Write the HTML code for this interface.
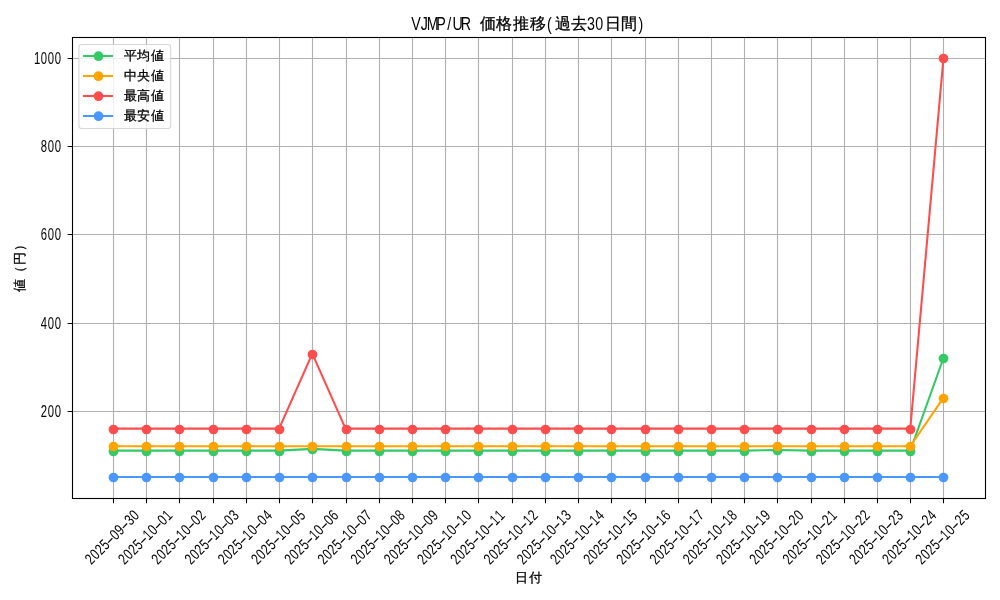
<!DOCTYPE html>
<html><head><meta charset="utf-8"><title>VJMP/UR 価格推移</title>
<style>html,body{margin:0;padding:0;background:#fff;width:1000px;height:600px;overflow:hidden}svg{display:block}</style>
</head><body>
<svg width="1000" height="600" viewBox="0 0 1000 600">
<rect x="0" y="0" width="1000" height="600" fill="#ffffff"/>
<path d="M113.5 37.5V498.5M146.5 37.5V498.5M179.5 37.5V498.5M213.5 37.5V498.5M246.5 37.5V498.5M279.5 37.5V498.5M312.5 37.5V498.5M346.5 37.5V498.5M379.5 37.5V498.5M412.5 37.5V498.5M445.5 37.5V498.5M478.5 37.5V498.5M512.5 37.5V498.5M545.5 37.5V498.5M578.5 37.5V498.5M611.5 37.5V498.5M645.5 37.5V498.5M678.5 37.5V498.5M711.5 37.5V498.5M744.5 37.5V498.5M777.5 37.5V498.5M811.5 37.5V498.5M844.5 37.5V498.5M877.5 37.5V498.5M910.5 37.5V498.5M943.5 37.5V498.5M72.5 411.5H985.5M72.5 323.5H985.5M72.5 234.5H985.5M72.5 146.5H985.5M72.5 58.5H985.5" stroke="#b0b0b0" stroke-width="1.1" fill="none"/>
<polyline points="113.02,450.66 146.24,450.66 179.46,450.66 212.68,450.66 245.90,450.66 279.12,450.66 312.33,448.90 345.55,450.66 378.77,450.66 411.99,450.66 445.21,450.66 478.43,450.66 511.65,450.66 544.87,450.66 578.09,450.66 611.31,450.66 644.52,450.66 677.74,450.66 710.96,450.66 744.18,450.66 777.40,450.00 810.62,450.66 843.84,450.66 877.06,450.66 910.28,450.66 943.50,358.00" fill="none" stroke="#33c966" stroke-width="2.08" stroke-linejoin="round" stroke-linecap="square"/><g fill="#33c966"><circle cx="113.50" cy="451.50" r="4.86"/><circle cx="146.50" cy="451.50" r="4.86"/><circle cx="179.50" cy="451.50" r="4.86"/><circle cx="213.50" cy="451.50" r="4.86"/><circle cx="246.50" cy="451.50" r="4.86"/><circle cx="279.50" cy="451.50" r="4.86"/><circle cx="312.50" cy="449.50" r="4.86"/><circle cx="346.50" cy="451.50" r="4.86"/><circle cx="379.50" cy="451.50" r="4.86"/><circle cx="412.50" cy="451.50" r="4.86"/><circle cx="445.50" cy="451.50" r="4.86"/><circle cx="478.50" cy="451.50" r="4.86"/><circle cx="512.50" cy="451.50" r="4.86"/><circle cx="545.50" cy="451.50" r="4.86"/><circle cx="578.50" cy="451.50" r="4.86"/><circle cx="611.50" cy="451.50" r="4.86"/><circle cx="645.50" cy="451.50" r="4.86"/><circle cx="678.50" cy="451.50" r="4.86"/><circle cx="711.50" cy="451.50" r="4.86"/><circle cx="744.50" cy="451.50" r="4.86"/><circle cx="777.50" cy="450.50" r="4.86"/><circle cx="811.50" cy="451.50" r="4.86"/><circle cx="844.50" cy="451.50" r="4.86"/><circle cx="877.50" cy="451.50" r="4.86"/><circle cx="910.50" cy="451.50" r="4.86"/><circle cx="943.50" cy="358.50" r="4.86"/></g>
<polyline points="113.02,446.25 146.24,446.25 179.46,446.25 212.68,446.25 245.90,446.25 279.12,446.25 312.33,446.25 345.55,446.25 378.77,446.25 411.99,446.25 445.21,446.25 478.43,446.25 511.65,446.25 544.87,446.25 578.09,446.25 611.31,446.25 644.52,446.25 677.74,446.25 710.96,446.25 744.18,446.25 777.40,446.25 810.62,446.25 843.84,446.25 877.06,446.25 910.28,446.25 943.50,397.71" fill="none" stroke="#ffa300" stroke-width="2.08" stroke-linejoin="round" stroke-linecap="square"/><g fill="#ffa300"><circle cx="113.50" cy="446.50" r="4.86"/><circle cx="146.50" cy="446.50" r="4.86"/><circle cx="179.50" cy="446.50" r="4.86"/><circle cx="213.50" cy="446.50" r="4.86"/><circle cx="246.50" cy="446.50" r="4.86"/><circle cx="279.50" cy="446.50" r="4.86"/><circle cx="312.50" cy="446.50" r="4.86"/><circle cx="346.50" cy="446.50" r="4.86"/><circle cx="379.50" cy="446.50" r="4.86"/><circle cx="412.50" cy="446.50" r="4.86"/><circle cx="445.50" cy="446.50" r="4.86"/><circle cx="478.50" cy="446.50" r="4.86"/><circle cx="512.50" cy="446.50" r="4.86"/><circle cx="545.50" cy="446.50" r="4.86"/><circle cx="578.50" cy="446.50" r="4.86"/><circle cx="611.50" cy="446.50" r="4.86"/><circle cx="645.50" cy="446.50" r="4.86"/><circle cx="678.50" cy="446.50" r="4.86"/><circle cx="711.50" cy="446.50" r="4.86"/><circle cx="744.50" cy="446.50" r="4.86"/><circle cx="777.50" cy="446.50" r="4.86"/><circle cx="811.50" cy="446.50" r="4.86"/><circle cx="844.50" cy="446.50" r="4.86"/><circle cx="877.50" cy="446.50" r="4.86"/><circle cx="910.50" cy="446.50" r="4.86"/><circle cx="943.50" cy="398.50" r="4.86"/></g>
<polyline points="113.02,428.60 146.24,428.60 179.46,428.60 212.68,428.60 245.90,428.60 279.12,428.60 312.33,353.59 345.55,428.60 378.77,428.60 411.99,428.60 445.21,428.60 478.43,428.60 511.65,428.60 544.87,428.60 578.09,428.60 611.31,428.60 644.52,428.60 677.74,428.60 710.96,428.60 744.18,428.60 777.40,428.60 810.62,428.60 843.84,428.60 877.06,428.60 910.28,428.60 943.50,57.95" fill="none" stroke="#ff4d4d" stroke-width="2.08" stroke-linejoin="round" stroke-linecap="square"/><g fill="#ff4d4d"><circle cx="113.50" cy="429.50" r="4.86"/><circle cx="146.50" cy="429.50" r="4.86"/><circle cx="179.50" cy="429.50" r="4.86"/><circle cx="213.50" cy="429.50" r="4.86"/><circle cx="246.50" cy="429.50" r="4.86"/><circle cx="279.50" cy="429.50" r="4.86"/><circle cx="312.50" cy="354.50" r="4.86"/><circle cx="346.50" cy="429.50" r="4.86"/><circle cx="379.50" cy="429.50" r="4.86"/><circle cx="412.50" cy="429.50" r="4.86"/><circle cx="445.50" cy="429.50" r="4.86"/><circle cx="478.50" cy="429.50" r="4.86"/><circle cx="512.50" cy="429.50" r="4.86"/><circle cx="545.50" cy="429.50" r="4.86"/><circle cx="578.50" cy="429.50" r="4.86"/><circle cx="611.50" cy="429.50" r="4.86"/><circle cx="645.50" cy="429.50" r="4.86"/><circle cx="678.50" cy="429.50" r="4.86"/><circle cx="711.50" cy="429.50" r="4.86"/><circle cx="744.50" cy="429.50" r="4.86"/><circle cx="777.50" cy="429.50" r="4.86"/><circle cx="811.50" cy="429.50" r="4.86"/><circle cx="844.50" cy="429.50" r="4.86"/><circle cx="877.50" cy="429.50" r="4.86"/><circle cx="910.50" cy="429.50" r="4.86"/><circle cx="943.50" cy="58.50" r="4.86"/></g>
<polyline points="113,477 146,477 179,477 213,477 246,477 279,477 312,477 346,477 379,477 412,477 445,477 478,477 512,477 545,477 578,477 611,477 645,477 678,477 711,477 744,477 777,477 811,477 844,477 877,477 910,477 943,477" fill="none" stroke="#4a98ff" stroke-width="2.08" stroke-linejoin="round" stroke-linecap="square"/><g fill="#4a98ff"><circle cx="113.50" cy="477.50" r="4.86"/><circle cx="146.50" cy="477.50" r="4.86"/><circle cx="179.50" cy="477.50" r="4.86"/><circle cx="213.50" cy="477.50" r="4.86"/><circle cx="246.50" cy="477.50" r="4.86"/><circle cx="279.50" cy="477.50" r="4.86"/><circle cx="312.50" cy="477.50" r="4.86"/><circle cx="346.50" cy="477.50" r="4.86"/><circle cx="379.50" cy="477.50" r="4.86"/><circle cx="412.50" cy="477.50" r="4.86"/><circle cx="445.50" cy="477.50" r="4.86"/><circle cx="478.50" cy="477.50" r="4.86"/><circle cx="512.50" cy="477.50" r="4.86"/><circle cx="545.50" cy="477.50" r="4.86"/><circle cx="578.50" cy="477.50" r="4.86"/><circle cx="611.50" cy="477.50" r="4.86"/><circle cx="645.50" cy="477.50" r="4.86"/><circle cx="678.50" cy="477.50" r="4.86"/><circle cx="711.50" cy="477.50" r="4.86"/><circle cx="744.50" cy="477.50" r="4.86"/><circle cx="777.50" cy="477.50" r="4.86"/><circle cx="811.50" cy="477.50" r="4.86"/><circle cx="844.50" cy="477.50" r="4.86"/><circle cx="877.50" cy="477.50" r="4.86"/><circle cx="910.50" cy="477.50" r="4.86"/><circle cx="943.50" cy="477.50" r="4.86"/></g>
<rect x="72.5" y="37.5" width="913.0" height="461.0" fill="none" stroke="#000" stroke-width="1.1"/>
<path d="M113.5 498.5v4.86M146.5 498.5v4.86M179.5 498.5v4.86M213.5 498.5v4.86M246.5 498.5v4.86M279.5 498.5v4.86M312.5 498.5v4.86M346.5 498.5v4.86M379.5 498.5v4.86M412.5 498.5v4.86M445.5 498.5v4.86M478.5 498.5v4.86M512.5 498.5v4.86M545.5 498.5v4.86M578.5 498.5v4.86M611.5 498.5v4.86M645.5 498.5v4.86M678.5 498.5v4.86M711.5 498.5v4.86M744.5 498.5v4.86M777.5 498.5v4.86M811.5 498.5v4.86M844.5 498.5v4.86M877.5 498.5v4.86M910.5 498.5v4.86M943.5 498.5v4.86M72.5 411.5h-4.86M72.5 323.5h-4.86M72.5 234.5h-4.86M72.5 146.5h-4.86M72.5 58.5h-4.86" stroke="#000" stroke-width="1.1" fill="none"/>
<g font-family='"Liberation Sans", sans-serif' fill="#000" style="opacity:0.999">
<text transform="translate(0,29.80) scale(0.78,1)" x="533.29 543.97 554.66 565.34 576.02 586.71 597.39" y="0" font-size="18.3" text-anchor="middle">VJMP/UR</text><text x="487.60 504.26 520.93 537.60" y="29.10" font-size="15.8" text-anchor="middle" stroke="#000" stroke-width="0.3">価格推移</text><text transform="translate(0,29.80) scale(0.78,1)" x="704.22" y="0" font-size="18.3" text-anchor="middle">(</text><text x="562.59 579.26" y="29.10" font-size="15.8" text-anchor="middle" stroke="#000" stroke-width="0.3">過去</text><text transform="translate(0,29.80) scale(0.78,1)" x="757.64 768.32" y="0" font-size="18.3" text-anchor="middle">30</text><text x="612.59 629.26" y="29.10" font-size="15.8" text-anchor="middle" stroke="#000" stroke-width="0.3">日間</text><text transform="translate(0,29.80) scale(0.78,1)" x="821.74" y="0" font-size="18.3" text-anchor="middle">)</text>
<text transform="translate(0,416.90) scale(0.72,1)" x="61.12 70.77 80.41" y="0" font-size="15.7" text-anchor="middle">200</text>
<text transform="translate(0,328.90) scale(0.72,1)" x="61.12 70.77 80.41" y="0" font-size="15.7" text-anchor="middle">400</text>
<text transform="translate(0,239.90) scale(0.72,1)" x="61.12 70.77 80.41" y="0" font-size="15.7" text-anchor="middle">600</text>
<text transform="translate(0,151.90) scale(0.72,1)" x="61.12 70.77 80.41" y="0" font-size="15.7" text-anchor="middle">800</text>
<text transform="translate(0,63.90) scale(0.72,1)" x="51.48 61.12 70.77 80.41" y="0" font-size="15.7" text-anchor="middle">1000</text>
<g transform="translate(111.92,537.00) rotate(-45)"><text transform="translate(0,5.40) scale(0.75,1)" x="-41.66 -32.41 -23.15 -13.89" y="0" font-size="15.5" text-anchor="middle">2025</text><text transform="translate(0,5.40) scale(1.6,1)" x="-2.17" y="0" font-size="15.5" text-anchor="middle">-</text><text transform="translate(0,5.40) scale(0.75,1)" x="4.63 13.89" y="0" font-size="15.5" text-anchor="middle">09</text><text transform="translate(0,5.40) scale(1.6,1)" x="10.85" y="0" font-size="15.5" text-anchor="middle">-</text><text transform="translate(0,5.40) scale(0.75,1)" x="32.41 41.66" y="0" font-size="15.5" text-anchor="middle">30</text></g>
<g transform="translate(145.14,537.00) rotate(-45)"><text transform="translate(0,5.40) scale(0.75,1)" x="-41.66 -32.41 -23.15 -13.89" y="0" font-size="15.5" text-anchor="middle">2025</text><text transform="translate(0,5.40) scale(1.6,1)" x="-2.17" y="0" font-size="15.5" text-anchor="middle">-</text><text transform="translate(0,5.40) scale(0.75,1)" x="4.63 13.89" y="0" font-size="15.5" text-anchor="middle">10</text><text transform="translate(0,5.40) scale(1.6,1)" x="10.85" y="0" font-size="15.5" text-anchor="middle">-</text><text transform="translate(0,5.40) scale(0.75,1)" x="32.41 41.66" y="0" font-size="15.5" text-anchor="middle">01</text></g>
<g transform="translate(178.36,537.00) rotate(-45)"><text transform="translate(0,5.40) scale(0.75,1)" x="-41.66 -32.41 -23.15 -13.89" y="0" font-size="15.5" text-anchor="middle">2025</text><text transform="translate(0,5.40) scale(1.6,1)" x="-2.17" y="0" font-size="15.5" text-anchor="middle">-</text><text transform="translate(0,5.40) scale(0.75,1)" x="4.63 13.89" y="0" font-size="15.5" text-anchor="middle">10</text><text transform="translate(0,5.40) scale(1.6,1)" x="10.85" y="0" font-size="15.5" text-anchor="middle">-</text><text transform="translate(0,5.40) scale(0.75,1)" x="32.41 41.66" y="0" font-size="15.5" text-anchor="middle">02</text></g>
<g transform="translate(211.58,537.00) rotate(-45)"><text transform="translate(0,5.40) scale(0.75,1)" x="-41.66 -32.41 -23.15 -13.89" y="0" font-size="15.5" text-anchor="middle">2025</text><text transform="translate(0,5.40) scale(1.6,1)" x="-2.17" y="0" font-size="15.5" text-anchor="middle">-</text><text transform="translate(0,5.40) scale(0.75,1)" x="4.63 13.89" y="0" font-size="15.5" text-anchor="middle">10</text><text transform="translate(0,5.40) scale(1.6,1)" x="10.85" y="0" font-size="15.5" text-anchor="middle">-</text><text transform="translate(0,5.40) scale(0.75,1)" x="32.41 41.66" y="0" font-size="15.5" text-anchor="middle">03</text></g>
<g transform="translate(244.80,537.00) rotate(-45)"><text transform="translate(0,5.40) scale(0.75,1)" x="-41.66 -32.41 -23.15 -13.89" y="0" font-size="15.5" text-anchor="middle">2025</text><text transform="translate(0,5.40) scale(1.6,1)" x="-2.17" y="0" font-size="15.5" text-anchor="middle">-</text><text transform="translate(0,5.40) scale(0.75,1)" x="4.63 13.89" y="0" font-size="15.5" text-anchor="middle">10</text><text transform="translate(0,5.40) scale(1.6,1)" x="10.85" y="0" font-size="15.5" text-anchor="middle">-</text><text transform="translate(0,5.40) scale(0.75,1)" x="32.41 41.66" y="0" font-size="15.5" text-anchor="middle">04</text></g>
<g transform="translate(278.01,537.00) rotate(-45)"><text transform="translate(0,5.40) scale(0.75,1)" x="-41.66 -32.41 -23.15 -13.89" y="0" font-size="15.5" text-anchor="middle">2025</text><text transform="translate(0,5.40) scale(1.6,1)" x="-2.17" y="0" font-size="15.5" text-anchor="middle">-</text><text transform="translate(0,5.40) scale(0.75,1)" x="4.63 13.89" y="0" font-size="15.5" text-anchor="middle">10</text><text transform="translate(0,5.40) scale(1.6,1)" x="10.85" y="0" font-size="15.5" text-anchor="middle">-</text><text transform="translate(0,5.40) scale(0.75,1)" x="32.41 41.66" y="0" font-size="15.5" text-anchor="middle">05</text></g>
<g transform="translate(311.23,537.00) rotate(-45)"><text transform="translate(0,5.40) scale(0.75,1)" x="-41.66 -32.41 -23.15 -13.89" y="0" font-size="15.5" text-anchor="middle">2025</text><text transform="translate(0,5.40) scale(1.6,1)" x="-2.17" y="0" font-size="15.5" text-anchor="middle">-</text><text transform="translate(0,5.40) scale(0.75,1)" x="4.63 13.89" y="0" font-size="15.5" text-anchor="middle">10</text><text transform="translate(0,5.40) scale(1.6,1)" x="10.85" y="0" font-size="15.5" text-anchor="middle">-</text><text transform="translate(0,5.40) scale(0.75,1)" x="32.41 41.66" y="0" font-size="15.5" text-anchor="middle">06</text></g>
<g transform="translate(344.45,537.00) rotate(-45)"><text transform="translate(0,5.40) scale(0.75,1)" x="-41.66 -32.41 -23.15 -13.89" y="0" font-size="15.5" text-anchor="middle">2025</text><text transform="translate(0,5.40) scale(1.6,1)" x="-2.17" y="0" font-size="15.5" text-anchor="middle">-</text><text transform="translate(0,5.40) scale(0.75,1)" x="4.63 13.89" y="0" font-size="15.5" text-anchor="middle">10</text><text transform="translate(0,5.40) scale(1.6,1)" x="10.85" y="0" font-size="15.5" text-anchor="middle">-</text><text transform="translate(0,5.40) scale(0.75,1)" x="32.41 41.66" y="0" font-size="15.5" text-anchor="middle">07</text></g>
<g transform="translate(377.67,537.00) rotate(-45)"><text transform="translate(0,5.40) scale(0.75,1)" x="-41.66 -32.41 -23.15 -13.89" y="0" font-size="15.5" text-anchor="middle">2025</text><text transform="translate(0,5.40) scale(1.6,1)" x="-2.17" y="0" font-size="15.5" text-anchor="middle">-</text><text transform="translate(0,5.40) scale(0.75,1)" x="4.63 13.89" y="0" font-size="15.5" text-anchor="middle">10</text><text transform="translate(0,5.40) scale(1.6,1)" x="10.85" y="0" font-size="15.5" text-anchor="middle">-</text><text transform="translate(0,5.40) scale(0.75,1)" x="32.41 41.66" y="0" font-size="15.5" text-anchor="middle">08</text></g>
<g transform="translate(410.89,537.00) rotate(-45)"><text transform="translate(0,5.40) scale(0.75,1)" x="-41.66 -32.41 -23.15 -13.89" y="0" font-size="15.5" text-anchor="middle">2025</text><text transform="translate(0,5.40) scale(1.6,1)" x="-2.17" y="0" font-size="15.5" text-anchor="middle">-</text><text transform="translate(0,5.40) scale(0.75,1)" x="4.63 13.89" y="0" font-size="15.5" text-anchor="middle">10</text><text transform="translate(0,5.40) scale(1.6,1)" x="10.85" y="0" font-size="15.5" text-anchor="middle">-</text><text transform="translate(0,5.40) scale(0.75,1)" x="32.41 41.66" y="0" font-size="15.5" text-anchor="middle">09</text></g>
<g transform="translate(444.11,537.00) rotate(-45)"><text transform="translate(0,5.40) scale(0.75,1)" x="-41.66 -32.41 -23.15 -13.89" y="0" font-size="15.5" text-anchor="middle">2025</text><text transform="translate(0,5.40) scale(1.6,1)" x="-2.17" y="0" font-size="15.5" text-anchor="middle">-</text><text transform="translate(0,5.40) scale(0.75,1)" x="4.63 13.89" y="0" font-size="15.5" text-anchor="middle">10</text><text transform="translate(0,5.40) scale(1.6,1)" x="10.85" y="0" font-size="15.5" text-anchor="middle">-</text><text transform="translate(0,5.40) scale(0.75,1)" x="32.41 41.66" y="0" font-size="15.5" text-anchor="middle">10</text></g>
<g transform="translate(477.33,537.00) rotate(-45)"><text transform="translate(0,5.40) scale(0.75,1)" x="-41.66 -32.41 -23.15 -13.89" y="0" font-size="15.5" text-anchor="middle">2025</text><text transform="translate(0,5.40) scale(1.6,1)" x="-2.17" y="0" font-size="15.5" text-anchor="middle">-</text><text transform="translate(0,5.40) scale(0.75,1)" x="4.63 13.89" y="0" font-size="15.5" text-anchor="middle">10</text><text transform="translate(0,5.40) scale(1.6,1)" x="10.85" y="0" font-size="15.5" text-anchor="middle">-</text><text transform="translate(0,5.40) scale(0.75,1)" x="32.41 41.66" y="0" font-size="15.5" text-anchor="middle">11</text></g>
<g transform="translate(510.55,537.00) rotate(-45)"><text transform="translate(0,5.40) scale(0.75,1)" x="-41.66 -32.41 -23.15 -13.89" y="0" font-size="15.5" text-anchor="middle">2025</text><text transform="translate(0,5.40) scale(1.6,1)" x="-2.17" y="0" font-size="15.5" text-anchor="middle">-</text><text transform="translate(0,5.40) scale(0.75,1)" x="4.63 13.89" y="0" font-size="15.5" text-anchor="middle">10</text><text transform="translate(0,5.40) scale(1.6,1)" x="10.85" y="0" font-size="15.5" text-anchor="middle">-</text><text transform="translate(0,5.40) scale(0.75,1)" x="32.41 41.66" y="0" font-size="15.5" text-anchor="middle">12</text></g>
<g transform="translate(543.77,537.00) rotate(-45)"><text transform="translate(0,5.40) scale(0.75,1)" x="-41.66 -32.41 -23.15 -13.89" y="0" font-size="15.5" text-anchor="middle">2025</text><text transform="translate(0,5.40) scale(1.6,1)" x="-2.17" y="0" font-size="15.5" text-anchor="middle">-</text><text transform="translate(0,5.40) scale(0.75,1)" x="4.63 13.89" y="0" font-size="15.5" text-anchor="middle">10</text><text transform="translate(0,5.40) scale(1.6,1)" x="10.85" y="0" font-size="15.5" text-anchor="middle">-</text><text transform="translate(0,5.40) scale(0.75,1)" x="32.41 41.66" y="0" font-size="15.5" text-anchor="middle">13</text></g>
<g transform="translate(576.99,537.00) rotate(-45)"><text transform="translate(0,5.40) scale(0.75,1)" x="-41.66 -32.41 -23.15 -13.89" y="0" font-size="15.5" text-anchor="middle">2025</text><text transform="translate(0,5.40) scale(1.6,1)" x="-2.17" y="0" font-size="15.5" text-anchor="middle">-</text><text transform="translate(0,5.40) scale(0.75,1)" x="4.63 13.89" y="0" font-size="15.5" text-anchor="middle">10</text><text transform="translate(0,5.40) scale(1.6,1)" x="10.85" y="0" font-size="15.5" text-anchor="middle">-</text><text transform="translate(0,5.40) scale(0.75,1)" x="32.41 41.66" y="0" font-size="15.5" text-anchor="middle">14</text></g>
<g transform="translate(610.21,537.00) rotate(-45)"><text transform="translate(0,5.40) scale(0.75,1)" x="-41.66 -32.41 -23.15 -13.89" y="0" font-size="15.5" text-anchor="middle">2025</text><text transform="translate(0,5.40) scale(1.6,1)" x="-2.17" y="0" font-size="15.5" text-anchor="middle">-</text><text transform="translate(0,5.40) scale(0.75,1)" x="4.63 13.89" y="0" font-size="15.5" text-anchor="middle">10</text><text transform="translate(0,5.40) scale(1.6,1)" x="10.85" y="0" font-size="15.5" text-anchor="middle">-</text><text transform="translate(0,5.40) scale(0.75,1)" x="32.41 41.66" y="0" font-size="15.5" text-anchor="middle">15</text></g>
<g transform="translate(643.42,537.00) rotate(-45)"><text transform="translate(0,5.40) scale(0.75,1)" x="-41.66 -32.41 -23.15 -13.89" y="0" font-size="15.5" text-anchor="middle">2025</text><text transform="translate(0,5.40) scale(1.6,1)" x="-2.17" y="0" font-size="15.5" text-anchor="middle">-</text><text transform="translate(0,5.40) scale(0.75,1)" x="4.63 13.89" y="0" font-size="15.5" text-anchor="middle">10</text><text transform="translate(0,5.40) scale(1.6,1)" x="10.85" y="0" font-size="15.5" text-anchor="middle">-</text><text transform="translate(0,5.40) scale(0.75,1)" x="32.41 41.66" y="0" font-size="15.5" text-anchor="middle">16</text></g>
<g transform="translate(676.64,537.00) rotate(-45)"><text transform="translate(0,5.40) scale(0.75,1)" x="-41.66 -32.41 -23.15 -13.89" y="0" font-size="15.5" text-anchor="middle">2025</text><text transform="translate(0,5.40) scale(1.6,1)" x="-2.17" y="0" font-size="15.5" text-anchor="middle">-</text><text transform="translate(0,5.40) scale(0.75,1)" x="4.63 13.89" y="0" font-size="15.5" text-anchor="middle">10</text><text transform="translate(0,5.40) scale(1.6,1)" x="10.85" y="0" font-size="15.5" text-anchor="middle">-</text><text transform="translate(0,5.40) scale(0.75,1)" x="32.41 41.66" y="0" font-size="15.5" text-anchor="middle">17</text></g>
<g transform="translate(709.86,537.00) rotate(-45)"><text transform="translate(0,5.40) scale(0.75,1)" x="-41.66 -32.41 -23.15 -13.89" y="0" font-size="15.5" text-anchor="middle">2025</text><text transform="translate(0,5.40) scale(1.6,1)" x="-2.17" y="0" font-size="15.5" text-anchor="middle">-</text><text transform="translate(0,5.40) scale(0.75,1)" x="4.63 13.89" y="0" font-size="15.5" text-anchor="middle">10</text><text transform="translate(0,5.40) scale(1.6,1)" x="10.85" y="0" font-size="15.5" text-anchor="middle">-</text><text transform="translate(0,5.40) scale(0.75,1)" x="32.41 41.66" y="0" font-size="15.5" text-anchor="middle">18</text></g>
<g transform="translate(743.08,537.00) rotate(-45)"><text transform="translate(0,5.40) scale(0.75,1)" x="-41.66 -32.41 -23.15 -13.89" y="0" font-size="15.5" text-anchor="middle">2025</text><text transform="translate(0,5.40) scale(1.6,1)" x="-2.17" y="0" font-size="15.5" text-anchor="middle">-</text><text transform="translate(0,5.40) scale(0.75,1)" x="4.63 13.89" y="0" font-size="15.5" text-anchor="middle">10</text><text transform="translate(0,5.40) scale(1.6,1)" x="10.85" y="0" font-size="15.5" text-anchor="middle">-</text><text transform="translate(0,5.40) scale(0.75,1)" x="32.41 41.66" y="0" font-size="15.5" text-anchor="middle">19</text></g>
<g transform="translate(776.30,537.00) rotate(-45)"><text transform="translate(0,5.40) scale(0.75,1)" x="-41.66 -32.41 -23.15 -13.89" y="0" font-size="15.5" text-anchor="middle">2025</text><text transform="translate(0,5.40) scale(1.6,1)" x="-2.17" y="0" font-size="15.5" text-anchor="middle">-</text><text transform="translate(0,5.40) scale(0.75,1)" x="4.63 13.89" y="0" font-size="15.5" text-anchor="middle">10</text><text transform="translate(0,5.40) scale(1.6,1)" x="10.85" y="0" font-size="15.5" text-anchor="middle">-</text><text transform="translate(0,5.40) scale(0.75,1)" x="32.41 41.66" y="0" font-size="15.5" text-anchor="middle">20</text></g>
<g transform="translate(809.52,537.00) rotate(-45)"><text transform="translate(0,5.40) scale(0.75,1)" x="-41.66 -32.41 -23.15 -13.89" y="0" font-size="15.5" text-anchor="middle">2025</text><text transform="translate(0,5.40) scale(1.6,1)" x="-2.17" y="0" font-size="15.5" text-anchor="middle">-</text><text transform="translate(0,5.40) scale(0.75,1)" x="4.63 13.89" y="0" font-size="15.5" text-anchor="middle">10</text><text transform="translate(0,5.40) scale(1.6,1)" x="10.85" y="0" font-size="15.5" text-anchor="middle">-</text><text transform="translate(0,5.40) scale(0.75,1)" x="32.41 41.66" y="0" font-size="15.5" text-anchor="middle">21</text></g>
<g transform="translate(842.74,537.00) rotate(-45)"><text transform="translate(0,5.40) scale(0.75,1)" x="-41.66 -32.41 -23.15 -13.89" y="0" font-size="15.5" text-anchor="middle">2025</text><text transform="translate(0,5.40) scale(1.6,1)" x="-2.17" y="0" font-size="15.5" text-anchor="middle">-</text><text transform="translate(0,5.40) scale(0.75,1)" x="4.63 13.89" y="0" font-size="15.5" text-anchor="middle">10</text><text transform="translate(0,5.40) scale(1.6,1)" x="10.85" y="0" font-size="15.5" text-anchor="middle">-</text><text transform="translate(0,5.40) scale(0.75,1)" x="32.41 41.66" y="0" font-size="15.5" text-anchor="middle">22</text></g>
<g transform="translate(875.96,537.00) rotate(-45)"><text transform="translate(0,5.40) scale(0.75,1)" x="-41.66 -32.41 -23.15 -13.89" y="0" font-size="15.5" text-anchor="middle">2025</text><text transform="translate(0,5.40) scale(1.6,1)" x="-2.17" y="0" font-size="15.5" text-anchor="middle">-</text><text transform="translate(0,5.40) scale(0.75,1)" x="4.63 13.89" y="0" font-size="15.5" text-anchor="middle">10</text><text transform="translate(0,5.40) scale(1.6,1)" x="10.85" y="0" font-size="15.5" text-anchor="middle">-</text><text transform="translate(0,5.40) scale(0.75,1)" x="32.41 41.66" y="0" font-size="15.5" text-anchor="middle">23</text></g>
<g transform="translate(909.18,537.00) rotate(-45)"><text transform="translate(0,5.40) scale(0.75,1)" x="-41.66 -32.41 -23.15 -13.89" y="0" font-size="15.5" text-anchor="middle">2025</text><text transform="translate(0,5.40) scale(1.6,1)" x="-2.17" y="0" font-size="15.5" text-anchor="middle">-</text><text transform="translate(0,5.40) scale(0.75,1)" x="4.63 13.89" y="0" font-size="15.5" text-anchor="middle">10</text><text transform="translate(0,5.40) scale(1.6,1)" x="10.85" y="0" font-size="15.5" text-anchor="middle">-</text><text transform="translate(0,5.40) scale(0.75,1)" x="32.41 41.66" y="0" font-size="15.5" text-anchor="middle">24</text></g>
<g transform="translate(942.39,537.00) rotate(-45)"><text transform="translate(0,5.40) scale(0.75,1)" x="-41.66 -32.41 -23.15 -13.89" y="0" font-size="15.5" text-anchor="middle">2025</text><text transform="translate(0,5.40) scale(1.6,1)" x="-2.17" y="0" font-size="15.5" text-anchor="middle">-</text><text transform="translate(0,5.40) scale(0.75,1)" x="4.63 13.89" y="0" font-size="15.5" text-anchor="middle">10</text><text transform="translate(0,5.40) scale(1.6,1)" x="10.85" y="0" font-size="15.5" text-anchor="middle">-</text><text transform="translate(0,5.40) scale(0.75,1)" x="32.41 41.66" y="0" font-size="15.5" text-anchor="middle">25</text></g>
<text x="521.6 535.5" y="582.2" font-size="13.0" text-anchor="middle" stroke="#000" stroke-width="0.3">日付</text>
<text transform="translate(23.8,265.2) rotate(-90)" x="-20.8 -6.95 6.95 20.8" y="0" font-size="13.0" text-anchor="middle" stroke="#000" stroke-width="0.3">値（円）</text>
</g>
<rect x="78.94" y="44.5" width="91.7" height="84.0" rx="2.78" ry="2.78" fill="#ffffff" fill-opacity="0.8" stroke="#cccccc" stroke-opacity="0.8" stroke-width="1.1"/>
<path d="M84 56H112" stroke="#33c966" stroke-width="2.08" stroke-linecap="square"/>
<circle cx="98.5" cy="56.20" r="4.86" fill="#33c966"/>
<path d="M84 76H112" stroke="#ffa300" stroke-width="2.08" stroke-linecap="square"/>
<circle cx="98.5" cy="76.20" r="4.86" fill="#ffa300"/>
<path d="M84 96H112" stroke="#ff4d4d" stroke-width="2.08" stroke-linecap="square"/>
<circle cx="98.5" cy="96.20" r="4.86" fill="#ff4d4d"/>
<path d="M84 116H112" stroke="#4a98ff" stroke-width="2.08" stroke-linecap="square"/>
<circle cx="98.5" cy="116.20" r="4.86" fill="#4a98ff"/>
<g font-family='"Liberation Sans", sans-serif' fill="#000" style="will-change:transform">
<text x="130.0 143.8 157.6" y="60.10" font-size="12.7" text-anchor="middle" stroke="#000" stroke-width="0.3">平均値</text>
<text x="130.0 143.8 157.6" y="80.10" font-size="12.7" text-anchor="middle" stroke="#000" stroke-width="0.3">中央値</text>
<text x="130.0 143.8 157.6" y="100.10" font-size="12.7" text-anchor="middle" stroke="#000" stroke-width="0.3">最高値</text>
<text x="130.0 143.8 157.6" y="120.10" font-size="12.7" text-anchor="middle" stroke="#000" stroke-width="0.3">最安値</text>
</g>
</svg>
</body></html>
